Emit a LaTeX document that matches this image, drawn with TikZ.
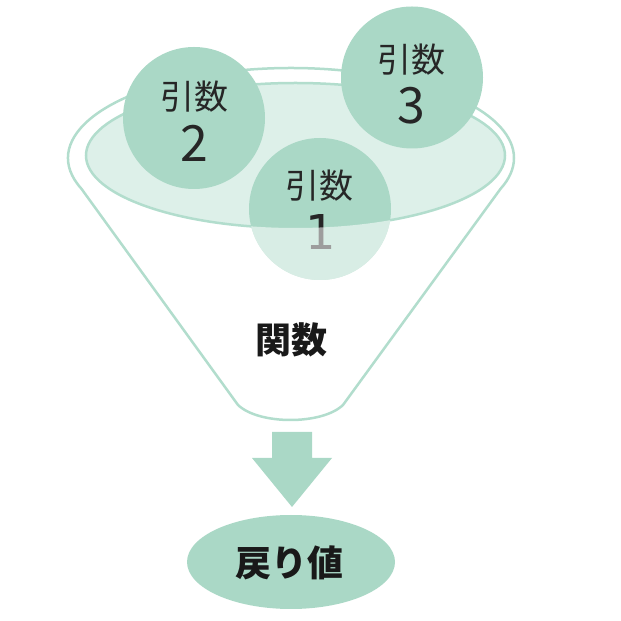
\documentclass[tikz,border=0pt]{standalone}
\usepackage{fontspec}
\setmainfont{Noto Sans CJK JP}
\newfontfamily\footdigit{DejaVu Sans}
\usetikzlibrary{shapes.geometric}
\definecolor{fgreen}{RGB}{170,216,198}
\definecolor{flight}{RGB}{221,240,233}
\definecolor{fline}{RGB}{178,221,205}
\begin{document}
\begin{tikzpicture}[x=1pt,y=1pt,
  argcircle/.style={circle, fill=fgreen, minimum size=142pt, inner sep=0pt},
  argword/.style={font=\fontsize{34}{34}\selectfont, text=black!85, inner sep=0pt},
  argnum/.style={font=\fontsize{50}{50}\selectfont, text=black!85, inner sep=0pt},
  rimline/.style={draw=fline, line width=2.5pt},
  bigword/.style={font=\bfseries\fontsize{36}{36}\selectfont, text=black!90, inner sep=0pt}]
\useasboundingbox (0,0) rectangle (621,621);
% funnel outline
\draw[rimline, fill=white, line join=round] (81.45,432.2)
  arc[start angle=200, end angle=-20, x radius=223, y radius=90]
  -- (343,216) .. controls (322,196) and (259,196) .. (238,216) -- cycle;
% bowl (inner ellipse)
\node[ellipse, rimline, fill=flight, minimum width=419pt, minimum height=145pt, inner sep=0pt] (bowl) at (295.5,465.5) {};
% argument circles
\node[argcircle] (a2) at (194,503) {};
\node[argcircle] (a3) at (412,543.5) {};
\node[argcircle] (a1) at (320,412) {};
\node[argword] (w2) at (194,524) {引数};
\node[argnum]  (n2) at (194,478) {2};
\node[argword] (w3) at (411,561) {引数};
\node[argnum]  (n3) at (411,515) {3};
\node[argword] (w1) at (319,435) {引数};
\node[argnum, font=\footdigit\fontsize{48}{48}\selectfont]  (n1) at (321,389) {1};
% fade the part of circle 1 outside the bowl
\begin{scope}
  \clip (a1.center) circle (71);
  \fill[white, fill opacity=.55, even odd rule] (0,0) rectangle (621,621)
    (bowl.center) ellipse [x radius=209.5, y radius=72.5];
\end{scope}
% function label
\node[bigword] (fn) at (291,281) {関数};
% arrow
\fill[fgreen] (272,189) -- (312,189) -- (312,163) -- (332,163) -- (292,114) -- (252,163) -- (272,163) -- cycle;
% return value
\node[ellipse, fill=fgreen, minimum width=208pt, minimum height=94pt, inner sep=0pt] (ret) at (291,59) {};
\node[bigword] (rettext) at (289,58.5) {戻り値};
\end{tikzpicture}
\end{document}
